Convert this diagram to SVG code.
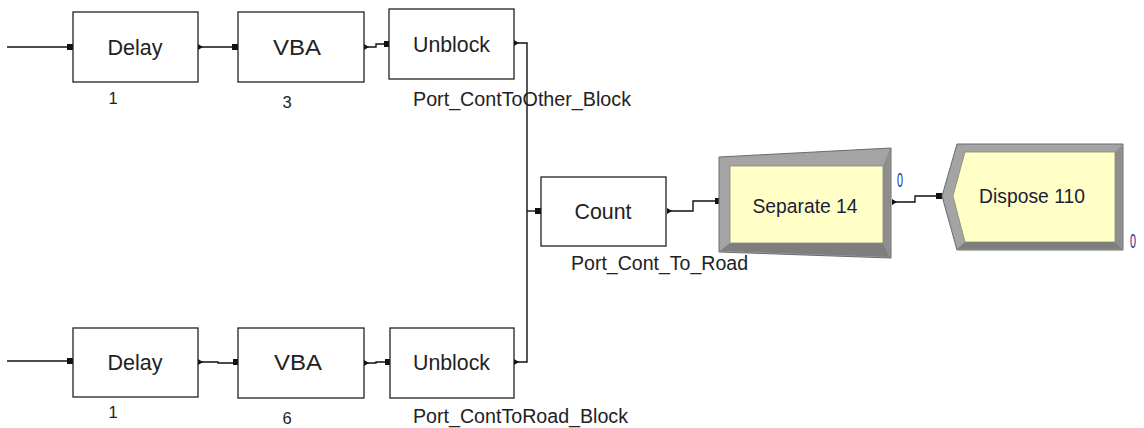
<svg xmlns="http://www.w3.org/2000/svg" width="1144" height="428" viewBox="0 0 1144 428">
<style>
.box{fill:#fff;stroke:#222;stroke-width:1.3}
.t{font-family:"Liberation Sans",Arial,sans-serif;font-size:21.5px;fill:#222;text-anchor:middle}
.lbl{font-family:"Liberation Sans",Arial,sans-serif;font-size:19.5px;fill:#222}
.num{font-family:"Liberation Sans",Arial,sans-serif;font-size:16.5px;fill:#222;text-anchor:middle}
.mt{font-family:"Liberation Sans",Arial,sans-serif;font-size:19.3px;fill:#1c1c3a;text-anchor:middle}
.zero{font-family:"Liberation Sans",Arial,sans-serif;font-size:20px;fill:#2a2a8a}
.c{fill:none;stroke:#111;stroke-width:1.4}
.pin{fill:#111}
.frame{fill:#a4a4a4;stroke:#6a6a6a;stroke-width:1}
.dark{fill:#7e7e7e}
.side{fill:#8e8e8e}
.yel{fill:#ffffc6;stroke:#8a8a70;stroke-width:0.8}
</style>
<g id="connectors">
<path class="c" d="M7 47H67"/>
<path class="c" d="M198 47H232"/>
<path class="c" d="M364 47H376V44H384"/>
<path class="c" d="M514 43H527V362H514"/>
<path class="c" d="M527 211H535"/>
<path class="c" d="M667 211H693V201H715"/>
<path class="c" d="M892 202H915V196H936"/>
<path class="c" d="M7 361H67"/>
<path class="c" d="M198 362H218V363H233"/>
<path class="c" d="M364 363H376V362H385"/>
<rect class="pin" x="67" y="44" width="6" height="6"/>
<rect class="pin" x="232" y="44" width="6" height="6"/>
<rect class="pin" x="384" y="41" width="5" height="6"/>
<rect class="pin" x="535" y="208" width="6" height="6"/>
<rect class="pin" x="715" y="198" width="5" height="6"/>
<rect class="pin" x="936" y="193" width="6" height="6"/>
<rect class="pin" x="67" y="358" width="6" height="6"/>
<rect class="pin" x="233" y="359" width="6" height="6"/>
<rect class="pin" x="385" y="359" width="5" height="6"/>
<path class="pin" d="M198 44L203 47L198 50Z"/>
<path class="pin" d="M364 44L369 47L364 50Z"/>
<path class="pin" d="M514 40L519 43L514 46Z"/>
<path class="pin" d="M667 208L672 211L667 214Z"/>
<path class="pin" d="M892 199L897 202L892 205Z"/>
<path class="pin" d="M198 359L203 362L198 365Z"/>
<path class="pin" d="M364 360L369 363L364 366Z"/>
<path class="pin" d="M514 359L519 362L514 365Z"/>
</g>
<g id="delay1">
<rect class="box" x="73" y="12" width="125" height="70"/>
<text class="t" x="135" y="55" textLength="55" lengthAdjust="spacingAndGlyphs">Delay</text>
<text class="num" x="113" y="104">1</text>
</g>
<g id="vba3">
<rect class="box" x="238" y="12" width="126" height="70"/>
<text class="t" x="297" y="55" textLength="48" lengthAdjust="spacingAndGlyphs">VBA</text>
<text class="num" x="287" y="108">3</text>
</g>
<g id="unblock1">
<rect class="box" x="389" y="9" width="125" height="70"/>
<text class="t" x="451.5" y="52" textLength="77" lengthAdjust="spacingAndGlyphs">Unblock</text>
<text class="lbl" x="413" y="106" textLength="218" lengthAdjust="spacingAndGlyphs">Port_ContToOther_Block</text>
</g>
<g id="count">
<rect class="box" x="541" y="177" width="125" height="69"/>
<text class="t" x="603" y="219" textLength="57" lengthAdjust="spacingAndGlyphs">Count</text>
<text class="lbl" x="571" y="270" textLength="177" lengthAdjust="spacingAndGlyphs">Port_Cont_To_Road</text>
</g>
<g id="separate14">
<polygon class="frame" points="719,157 891,148 891,258 719,252"/>
<polygon class="dark" points="720,251 730,243 883,243 890,257"/>
<polygon class="side" points="883,166 890,149 890,257 883,243"/>
<rect class="yel" x="730" y="166" width="153" height="77"/>
<text class="mt" x="805" y="213">Separate 14</text>
<text class="zero" x="897" y="187" textLength="6" lengthAdjust="spacingAndGlyphs">0</text>
</g>
<g id="dispose110">
<polygon class="frame" points="942,196 957,144 1123,144 1123,250 957,250"/>
<polygon class="dark" points="957,249 965,242 1115,242 1122,249"/>
<polygon class="side" points="1115,152 1122,145 1122,249 1115,242"/>
<polygon class="yel" points="953,196 965,152 1115,152 1115,242 965,242"/>
<text class="mt" x="1032" y="203">Dispose 110</text>
<text class="zero" x="1130" y="248" textLength="6" lengthAdjust="spacingAndGlyphs">0</text>
</g>
<g id="delay2">
<rect class="box" x="73" y="328" width="125" height="69"/>
<text class="t" x="135" y="370" textLength="55" lengthAdjust="spacingAndGlyphs">Delay</text>
<text class="num" x="113" y="418">1</text>
</g>
<g id="vba6">
<rect class="box" x="238" y="328" width="126" height="70"/>
<text class="t" x="298" y="370" textLength="48" lengthAdjust="spacingAndGlyphs">VBA</text>
<text class="num" x="287" y="424">6</text>
</g>
<g id="unblock2">
<rect class="box" x="390" y="328" width="124" height="70"/>
<text class="t" x="451.5" y="370" textLength="77" lengthAdjust="spacingAndGlyphs">Unblock</text>
<text class="lbl" x="413" y="423" textLength="215" lengthAdjust="spacingAndGlyphs">Port_ContToRoad_Block</text>
</g>
</svg>
